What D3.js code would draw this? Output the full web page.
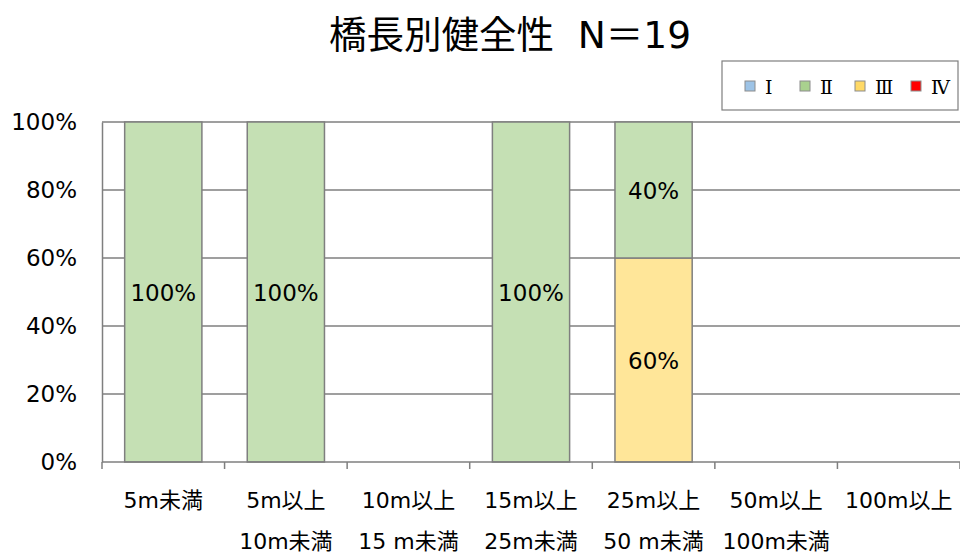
<!DOCTYPE html>
<html>
<head>
<meta charset="utf-8">
<script src="https://cdn.jsdelivr.net/npm/d3@7"></script>
<style>
  html, body { margin: 0; padding: 0; background: #fff; }
  svg { display: block; }
  text { font-family: "DejaVu Sans", "Noto Sans CJK JP", sans-serif; fill: #000; }
</style>
</head>
<body>
<svg id="chart" width="960" height="553"></svg>
<script>
// Bridge length classes (two-line labels)
const categories = [
  ["5m未満"],
  ["5m以上", "10m未満"],
  ["10m以上", "15 m未満"],
  ["15m以上", "25m未満"],
  ["25m以上", "50 m未満"],
  ["50m以上", "100m未満"],
  ["100m以上"]
];
// Soundness grades
const grades = ["Ⅰ", "Ⅱ", "Ⅲ", "Ⅳ"];
// Share (%) of each grade per length class
const gradeI   = [0, 0, 0, 0, 0, 0, 0];
const gradeII  = [100, 100, 0, 100, 40, 0, 0];
const gradeIII = [0, 0, 0, 0, 60, 0, 0];
const gradeIV  = [0, 0, 0, 0, 0, 0, 0];
const yTicks = [0, 20, 40, 60, 80, 100];
const titleText = "橋長別健全性  N＝19";

const barColors = { "Ⅰ": "#BDD7EE", "Ⅱ": "#C5E0B4", "Ⅲ": "#FFE699", "Ⅳ": "#FF0000" };
const swatchColors = { "Ⅰ": "#9DC3E6", "Ⅱ": "#A9D18E", "Ⅲ": "#FFD966", "Ⅳ": "#FF0000" };

const table = categories.map((c, i) => ({
  key: i,
  "Ⅰ": gradeI[i], "Ⅱ": gradeII[i], "Ⅲ": gradeIII[i], "Ⅳ": gradeIV[i]
}));

const svg = d3.select("#chart");
const plotLeft = 102, plotRight = 960, plotTop = 122, plotBottom = 462;

const x = d3.scaleBand().domain(d3.range(categories.length))
  .range([plotLeft, plotRight]).paddingInner(0.37).paddingOuter(0.185);
const bandStep = (plotRight - plotLeft) / categories.length;
const y = d3.scaleLinear().domain([0, 100]).range([plotBottom, plotTop]);

// Title
svg.append("text")
  .attr("x", 510).attr("y", 48)
  .attr("text-anchor", "middle")
  .style("font-size", "37.5px")
  .style("white-space", "pre")
  .text(titleText);

// Horizontal gridlines
svg.append("g").selectAll("line").data(yTicks.filter(t => t > 0)).join("line")
  .attr("x1", plotLeft).attr("x2", plotRight)
  .attr("y1", d => y(d)).attr("y2", d => y(d))
  .attr("stroke", "#7f7f7f").attr("stroke-width", 1.5);

// Y axis labels
const yAxis = d3.axisLeft(y).tickValues(yTicks).tickFormat(d => d + "%").tickSize(0).tickPadding(25);
const yg = svg.append("g").attr("transform", `translate(${plotLeft},0)`).call(yAxis);
yg.select(".domain").attr("stroke", "#7f7f7f").attr("stroke-width", 1.5);
yg.selectAll("text").style("font-size", "23px").style("font-family", "DejaVu Sans, sans-serif").attr("fill", "#000");

// Stacked bars: Ⅳ at the bottom, Ⅰ on top
const stackOrder = ["Ⅳ", "Ⅲ", "Ⅱ", "Ⅰ"];
const series = d3.stack().keys(stackOrder)(table);
const barG = svg.append("g");
series.forEach(s => {
  barG.append("g").selectAll("rect").data(s.filter(d => d[1] - d[0] > 0)).join("rect")
    .attr("x", d => x(d.data.key))
    .attr("width", x.bandwidth())
    .attr("y", d => y(d[1]))
    .attr("height", d => y(d[0]) - y(d[1]))
    .attr("fill", barColors[s.key])
    .attr("stroke", "#7f7f7f").attr("stroke-width", 1.5);
  barG.append("g").selectAll("text").data(s.filter(d => d[1] - d[0] > 0)).join("text")
    .attr("x", d => x(d.data.key) + x.bandwidth() / 2)
    .attr("y", d => (y(d[0]) + y(d[1])) / 2 + 9)
    .attr("text-anchor", "middle")
    .style("font-size", "23px")
    .text(d => (d[1] - d[0]) + "%");
});

// Bottom axis with ticks between categories
const xg = svg.append("g");
xg.append("line").attr("x1", plotLeft).attr("x2", plotRight).attr("y1", plotBottom).attr("y2", plotBottom)
  .attr("stroke", "#7f7f7f").attr("stroke-width", 1.5);
xg.selectAll("line.tick").data(d3.range(categories.length + 1)).join("line")
  .attr("class", "tick")
  .attr("x1", i => plotLeft + i * bandStep).attr("x2", i => plotLeft + i * bandStep)
  .attr("y1", plotBottom).attr("y2", plotBottom + 7)
  .attr("stroke", "#7f7f7f").attr("stroke-width", 1.5);

// Category labels
const catG = svg.append("g").selectAll("text").data(categories).join("text")
  .attr("text-anchor", "middle")
  .style("font-size", "22px")
  .attr("transform", (d, i) => `translate(${x(i) + x.bandwidth() / 2},0)`);
catG.selectAll("tspan").data(d => d).join("tspan")
  .attr("x", 0)
  .attr("y", (d, j) => 508 + j * 41)
  .text(d => d);

// Legend
const lg = svg.append("g");
lg.append("rect").attr("x", 722).attr("y", 61).attr("width", 236).attr("height", 49)
  .attr("fill", "#fff").attr("stroke", "#7f7f7f").attr("stroke-width", 1.2);
const legendX = [745, 800, 855, 911];
grades.forEach((g, i) => {
  lg.append("rect").attr("x", legendX[i]).attr("y", 81).attr("width", 10).attr("height", 10)
    .attr("fill", swatchColors[g]).attr("stroke", "#8c8c8c").attr("stroke-width", 1);
  lg.append("text").attr("x", legendX[i] + 20).attr("y", 94)
    .style("font-family", "DejaVu Serif, serif")
    .style("font-size", "19px")
    .text(g);
});
</script>
</body>
</html>
